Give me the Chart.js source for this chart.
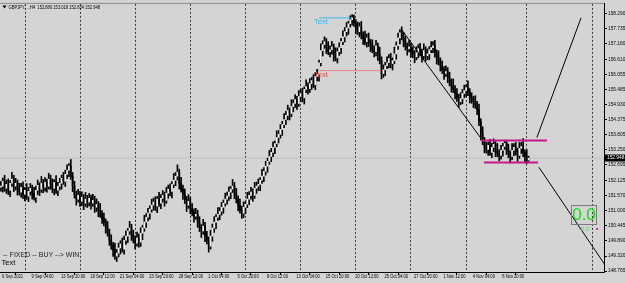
<!DOCTYPE html>
<html><head><meta charset="utf-8">
<script src="https://cdn.jsdelivr.net/npm/chart.js@4.4.0/dist/chart.umd.min.js"></script>
<style>html,body{margin:0;padding:0;background:#d4d4d4;overflow:hidden}#wrap{width:625px;height:283px;position:relative}</style>
</head><body><div id="wrap"><canvas id="c" width="625" height="283"></canvas></div>
<script>
// ---- DATA (GBPJPY H4, bar index 0 = 6 Sep 2021 12:00) ----
const opens=[
151.87,151.91,152.09,151.83,151.98,151.76,152.02,152.17,
151.91,152.02,151.80,151.69,151.87,151.61,151.76,151.54,
151.72,151.83,151.65,151.50,151.76,151.94,151.80,152.02,
151.87,152.05,151.91,152.17,151.98,151.83,152.05,151.76,
151.91,152.02,152.20,152.09,152.35,152.50,152.65,152.28,
151.91,151.61,151.43,151.57,151.35,151.50,151.28,151.43,
151.32,151.46,151.28,151.39,151.13,151.24,151.02,150.87,
150.73,150.58,150.39,150.17,149.91,149.73,149.55,149.32,
149.43,149.62,149.77,149.58,149.91,150.06,150.25,150.36,
150.10,149.95,149.80,149.99,149.84,150.17,150.36,150.58,
150.76,150.91,151.06,151.21,151.32,151.17,151.43,151.28,
151.46,151.57,151.39,151.65,151.80,151.72,151.98,152.13,
152.28,152.42,152.02,151.80,151.61,151.43,151.21,151.35,
151.09,150.95,150.80,150.87,150.58,150.39,150.25,150.43,
150.06,149.91,149.69,150.06,150.36,150.58,150.76,150.87,
150.98,151.13,151.28,151.43,151.54,151.69,151.80,151.91,
151.65,151.43,151.21,151.02,150.91,151.13,151.24,151.43,
151.57,151.69,151.57,151.83,151.91,151.98,152.13,152.28,
152.46,152.65,152.83,153.01,153.16,153.35,153.49,153.71,
153.83,154.01,154.19,154.38,154.53,154.71,154.60,154.86,
154.97,155.12,154.97,155.23,155.34,155.19,155.49,155.60,
155.52,155.71,155.82,155.67,155.97,156.04,156.48,156.93,
157.15,157.26,157.04,156.89,156.96,157.07,156.78,156.67,
156.89,157.04,157.26,157.44,157.63,157.77,157.92,158.07,
158.14,157.96,157.77,157.63,157.81,157.52,157.40,157.26,
157.40,157.22,157.11,156.96,156.89,157.11,156.81,156.56,
156.08,156.22,156.37,156.48,156.63,156.45,156.56,156.81,
157.11,157.40,157.59,157.44,157.26,157.11,157.00,157.07,
156.89,156.81,156.70,156.85,157.00,156.89,156.74,156.93,
156.74,156.81,156.96,157.04,157.11,156.85,156.67,156.52,
156.37,156.22,156.08,156.15,155.93,155.78,155.63,155.49,
155.34,155.19,155.04,155.15,155.34,155.45,155.56,155.38,
155.19,155.12,155.04,154.90,154.75,154.31,153.86,153.57,
153.35,153.27,153.42,153.16,153.35,153.46,153.24,153.12,
153.05,153.24,153.38,153.49,153.27,153.12,153.01,153.24,
153.35,153.20,153.05,153.31,153.38,153.16,153.01,152.88];
const highs=[
152.09,152.21,152.31,152.13,152.18,152.12,152.42,152.31,
152.20,152.14,152.02,152.02,152.07,151.86,152.01,151.86,
152.01,151.95,151.87,151.91,152.14,152.04,152.27,152.16,
152.23,152.17,152.39,152.32,152.18,152.15,152.30,152.05,
152.20,152.32,152.42,152.50,152.70,152.75,152.90,152.42,
152.09,151.73,151.79,151.72,151.70,151.60,151.68,151.57,
151.64,151.58,151.61,151.54,151.44,151.34,151.27,151.01,
150.91,150.70,150.61,150.32,150.11,149.83,149.80,149.57,
149.80,149.89,149.99,150.06,150.26,150.35,150.61,150.50,
150.28,150.07,150.21,150.14,150.37,150.46,150.83,150.90,
151.09,151.18,151.43,151.47,151.52,151.53,151.68,151.60,
151.75,151.69,151.87,151.95,152.00,152.08,152.38,152.42,
152.70,152.54,152.24,151.95,151.81,151.53,151.60,151.49,
151.27,151.07,151.09,151.02,150.78,150.49,150.68,150.57,
150.24,150.03,150.28,150.51,150.78,150.86,151.12,151.12,
151.31,151.40,151.65,151.69,151.89,151.90,152.16,152.05,
151.83,151.55,151.43,151.17,151.33,151.34,151.68,151.71,
151.87,151.81,152.05,152.06,152.18,152.23,152.53,152.60,
152.83,152.95,153.23,153.31,153.55,153.59,153.96,153.97,
154.19,154.31,154.60,154.68,154.91,154.81,155.11,155.11,
155.30,155.24,155.45,155.49,155.54,155.59,155.85,155.74,
155.89,155.94,156.04,156.12,156.24,156.58,157.18,157.29,
157.44,157.38,157.26,157.11,157.27,157.17,157.03,157.03,
157.22,157.38,157.66,157.78,157.97,158.02,158.22,158.26,
158.24,158.08,157.99,157.96,158.01,157.62,157.65,157.54,
157.58,157.34,157.33,157.11,157.31,157.21,157.06,156.70,
156.40,156.49,156.70,156.78,156.83,156.66,157.06,157.25,
157.58,157.71,157.81,157.59,157.46,157.21,157.32,157.21,
157.07,156.93,157.07,157.15,157.20,156.99,157.18,157.07,
156.99,157.08,157.26,157.26,157.31,156.95,156.92,156.66,
156.55,156.34,156.37,156.30,156.13,155.88,155.88,155.63,
155.52,155.31,155.37,155.49,155.65,155.66,155.81,155.52,
155.37,155.24,155.26,155.05,154.95,154.41,154.11,153.71,
153.53,153.54,153.64,153.50,153.66,153.56,153.49,153.26,
153.42,153.50,153.60,153.58,153.47,153.22,153.49,153.49,
153.53,153.32,153.53,153.53,153.67,153.26,153.26,153.02];
const lows=[
151.73,151.69,151.72,151.64,151.60,151.52,151.90,151.71,
151.77,151.58,151.58,151.50,151.45,151.37,151.42,151.34,
151.58,151.43,151.39,151.31,151.60,151.56,151.68,151.67,
151.73,151.69,151.80,151.79,151.67,151.59,151.64,151.56,
151.77,151.80,151.98,151.90,152.19,152.26,152.16,151.71,
151.47,151.21,151.32,151.16,151.19,151.04,151.16,151.12,
151.18,151.06,151.17,150.94,150.97,150.78,150.75,150.53,
150.44,150.17,150.06,149.72,149.57,149.31,149.20,149.12,
149.29,149.40,149.47,149.39,149.75,149.82,150.13,149.90,
149.81,149.58,149.69,149.65,149.68,149.93,150.24,150.38,
150.62,150.69,150.95,151.02,151.01,150.93,151.16,151.08,
151.32,151.17,151.28,151.46,151.56,151.48,151.86,151.93,
152.14,151.80,151.69,151.42,151.27,150.97,151.09,150.89,
150.81,150.58,150.69,150.39,150.23,150.01,150.13,149.86,
149.77,149.47,149.58,149.87,150.20,150.34,150.64,150.67,
150.84,150.91,151.17,151.24,151.38,151.45,151.68,151.45,
151.29,150.99,150.91,150.72,150.75,150.89,151.12,151.23,
151.43,151.35,151.46,151.64,151.75,151.74,152.01,152.08,
152.32,152.43,152.72,152.82,153.00,153.11,153.37,153.51,
153.69,153.79,154.08,154.19,154.37,154.36,154.48,154.66,
154.83,154.75,154.86,155.04,155.03,154.95,155.37,155.32,
155.38,155.49,155.56,155.48,155.81,155.80,156.36,156.73,
157.01,156.82,156.78,156.70,156.80,156.54,156.55,156.47,
156.75,156.82,157.15,157.25,157.47,157.53,157.80,157.87,
157.82,157.55,157.52,157.44,157.36,157.16,157.14,157.06,
157.08,156.89,156.85,156.70,156.73,156.57,156.44,155.88,
155.94,156.00,156.26,156.29,156.29,156.21,156.44,156.61,
156.97,157.18,157.33,157.07,156.95,156.76,156.88,156.69,
156.67,156.48,156.59,156.66,156.73,156.50,156.62,156.54,
156.60,156.59,156.85,156.85,156.69,156.43,156.40,156.17,
156.08,155.86,155.97,155.74,155.62,155.39,155.37,155.14,
155.05,154.82,154.93,154.96,155.18,155.21,155.26,154.99,
154.98,154.82,154.79,154.56,154.15,153.62,153.45,153.15,
153.13,153.05,153.05,152.97,153.19,153.00,153.00,152.85,
152.91,153.02,153.27,153.08,152.96,152.77,152.89,153.04,
153.06,152.83,152.94,153.12,153.00,152.77,152.75,152.83];
const closes=[
151.91,152.09,151.83,151.98,151.76,152.02,152.17,151.91,
152.02,151.80,151.69,151.87,151.61,151.76,151.54,151.72,
151.83,151.65,151.50,151.76,151.94,151.80,152.02,151.87,
152.05,151.91,152.17,151.98,151.83,152.05,151.76,151.91,
152.02,152.20,152.09,152.35,152.50,152.65,152.28,151.91,
151.61,151.43,151.57,151.35,151.50,151.28,151.43,151.32,
151.46,151.28,151.39,151.13,151.24,151.02,150.87,150.73,
150.58,150.39,150.17,149.91,149.73,149.55,149.32,149.43,
149.62,149.77,149.58,149.91,150.06,150.25,150.36,150.10,
149.95,149.80,149.99,149.84,150.17,150.36,150.58,150.76,
150.91,151.06,151.21,151.32,151.17,151.43,151.28,151.46,
151.57,151.39,151.65,151.80,151.72,151.98,152.13,152.28,
152.42,152.02,151.80,151.61,151.43,151.21,151.35,151.09,
150.95,150.80,150.87,150.58,150.39,150.25,150.43,150.06,
149.91,149.69,150.06,150.36,150.58,150.76,150.87,150.98,
151.13,151.28,151.43,151.54,151.69,151.80,151.91,151.65,
151.43,151.21,151.02,150.91,151.13,151.24,151.43,151.57,
151.69,151.57,151.83,151.91,151.98,152.13,152.28,152.46,
152.65,152.83,153.01,153.16,153.35,153.49,153.71,153.83,
154.01,154.19,154.38,154.53,154.71,154.60,154.86,154.97,
155.12,154.97,155.23,155.34,155.19,155.49,155.60,155.52,
155.71,155.82,155.67,155.97,156.04,156.48,156.93,157.15,
157.26,157.04,156.89,156.96,157.07,156.78,156.67,156.89,
157.04,157.26,157.44,157.63,157.77,157.92,158.07,158.14,
157.96,157.77,157.63,157.81,157.52,157.40,157.26,157.40,
157.22,157.11,156.96,156.89,157.11,156.81,156.56,156.08,
156.22,156.37,156.48,156.63,156.45,156.56,156.81,157.11,
157.40,157.59,157.44,157.26,157.11,157.00,157.07,156.89,
156.81,156.70,156.85,157.00,156.89,156.74,156.93,156.74,
156.81,156.96,157.04,157.11,156.85,156.67,156.52,156.37,
156.22,156.08,156.15,155.93,155.78,155.63,155.49,155.34,
155.19,155.04,155.15,155.34,155.45,155.56,155.38,155.19,
155.12,155.04,154.90,154.75,154.31,153.86,153.57,153.35,
153.27,153.42,153.16,153.35,153.46,153.24,153.12,153.05,
153.24,153.38,153.49,153.27,153.12,153.01,153.24,153.35,
153.20,153.05,153.31,153.38,153.16,153.01,152.87,152.95];

const timeLabels=["6 Sep 2021","9 Sep 04:00","13 Sep 20:00","16 Sep 12:00","21 Sep 04:00","23 Sep 20:00","28 Sep 12:00","1 Oct 04:00","5 Oct 20:00","8 Oct 12:00","13 Oct 04:00","15 Oct 20:00","20 Oct 12:00","25 Oct 04:00","27 Oct 20:00","1 Nov 12:00","4 Nov 04:00","8 Nov 20:00"];
const labelBars=[0,16,32,48,64,80,96,112,128,144,160,176,192,208,224,240,256,272];
const priceTicks=[158.290,157.735,157.180,156.610,156.055,155.485,154.930,154.375,153.805,153.250,152.695,152.125,151.570,151.000,150.445,149.890,149.320,148.765];
const gridBars=[28.5,58.4,88.3,118.2,148.1,178.0,207.8,237.7,268.2,304.0];
const lastPrice=152.948;
const titleText="GBPJPY....,H4  152.880 153.018 152.834 152.948";
const signalText="-- FIXED -- BUY --> WIN";
const cornerText="Text";
const boxValue="0.0";
// drawn objects (bar index, price)
const cyanLine=[{x:173.1,y:158.14},{x:190.5,y:158.14}];
const redLine=[{x:173.1,y:156.19},{x:206.8,y:156.19}];
const trendDown=[{x:217.6,y:157.74},{x:261.1,y:153.68}];
const trendUp=[{x:291.5,y:153.71},{x:315.5,y:158.14}];
const trendDown2=[{x:292.6,y:152.61},{x:329.0,y:148.95}];
const rangeTop=[{x:261.1,y:153.60},{x:297.0,y:153.60}];
const rangeBottom=[{x:262.7,y:152.79},{x:292.1,y:152.79}];
const cyanLabel={x:170.3,y:157.99};
const redLabel={x:170.3,y:156.04};

const BG='#d4d4d4';
const FONT='"Liberation Sans", Arial, sans-serif';
const X_MIN=-0.5, X_MAX=328, Y_MIN=148.733, Y_MAX=158.659;

const idx=closes.map((_,i)=>i);
const wickData=idx.map(i=>({x:i,y:[lows[i],highs[i]]}));
const bodyData=idx.map(i=>({x:i,y:[opens[i],closes[i]]}));
const bodyColors=idx.map(i=>closes[i]>=opens[i]?'#f4f4f4':'#000000');

function lineDs(data,color,w,order){return{type:'line',data,borderColor:color,borderWidth:w,pointRadius:0,fill:false,order,tension:0};}

function narrowText(ctx,txt,x,y,sx){ctx.save();ctx.translate(x,y);ctx.scale(sx,1);ctx.fillText(txt,0,0);ctx.restore();}

const extras={
  id:'extras',
  beforeDraw(chart){const c=chart.ctx;c.save();c.fillStyle=BG;c.fillRect(0,0,chart.width,chart.height);c.restore();},
  afterDraw(chart){
    const ctx=chart.ctx,xs=chart.scales.x,ys=chart.scales.y,a=chart.chartArea;
    ctx.save();
    ctx.fillStyle='#8c8c8c';ctx.fillRect(0,a.top-1,a.right,1);
    // time labels along the x axis
    ctx.fillStyle='#000';ctx.font='5px '+FONT;ctx.textBaseline='middle';ctx.textAlign='left';
    labelBars.forEach((b,k)=>narrowText(ctx,timeLabels[k],xs.getPixelForValue(b)+1.2,a.bottom+4.6,0.82));
    // title
    ctx.beginPath();ctx.moveTo(2.5,5.5);ctx.lineTo(6.5,5.5);ctx.lineTo(4.5,8.5);ctx.closePath();ctx.fill();
    ctx.font='5px '+FONT;
    narrowText(ctx,titleText,8.5,7.5,0.82);
    ctx.fillStyle='#222';ctx.font='7px '+FONT;
    ctx.fillText(signalText,3,255.5);
    ctx.fillStyle='#000';ctx.font='7.5px '+FONT;
    ctx.fillText(cornerText,1.5,262.5);
    ctx.font='7.5px '+FONT;
    ctx.fillStyle='#35b4e6';
    ctx.fillText('Text',xs.getPixelForValue(cyanLabel.x),ys.getPixelForValue(cyanLabel.y));
    ctx.fillStyle='#e0504a';
    ctx.fillText('Text',xs.getPixelForValue(redLabel.x),ys.getPixelForValue(redLabel.y));
    // last price tag
    const py=ys.getPixelForValue(lastPrice);
    ctx.fillStyle='#000';ctx.fillRect(a.right+1,Math.round(py)-3.5,20,7);
    ctx.fillStyle='#fff';ctx.font='4.8px '+FONT;
    ctx.fillText(lastPrice.toFixed(3),a.right+3,py);
    // value box
    ctx.strokeStyle='#7a7a7a';ctx.lineWidth=1;ctx.strokeRect(571.5,205.5,25,19);
    ctx.fillStyle='#16dc16';ctx.font='17px '+FONT;ctx.textAlign='center';
    ctx.fillText(boxValue,584,215.5);
    ctx.fillStyle='#5fd35f';ctx.font='6px '+FONT;
    ctx.fillText(boxValue,585,229);
    ctx.fillStyle='#d82cd8';ctx.fillRect(596,228,2,2);
    ctx.restore();
  }
};

new Chart(document.getElementById('c'),{
  type:'bar',
  data:{datasets:[
    {type:'bar',data:wickData,backgroundColor:'#000',barThickness:1,grouped:false,order:5},
    {type:'bar',data:bodyData,backgroundColor:bodyColors,barThickness:1,minBarLength:1,grouped:false,order:4},
    lineDs([{x:X_MIN,y:lastPrice},{x:X_MAX,y:lastPrice}],'#c2c2c2',1,6),
    lineDs(cyanLine,'#41b6e6',1,2),
    lineDs(redLine,'#f08080',1,2),
    lineDs(trendDown,'#000',1,1),
    lineDs(trendUp,'#000',1,1),
    lineDs(trendDown2,'#000',1,1),
    lineDs(rangeTop,'#c8168c',2,1),
    lineDs(rangeBottom,'#c8168c',2,1)
  ]},
  options:{
    responsive:false,animation:false,devicePixelRatio:1,
    layout:{padding:{top:3,left:0,right:0,bottom:0}},
    plugins:{legend:{display:false},tooltip:{enabled:false}},
    scales:{
      x:{type:'linear',position:'bottom',min:X_MIN,max:X_MAX,offset:false,
        afterBuildTicks:s=>{s.ticks=labelBars.map(v=>({value:v}));},
        afterFit:s=>{s.height=11;},
        ticks:{display:false},
        grid:{display:true,drawOnChartArea:false,drawTicks:true,tickLength:3,color:'#000',tickColor:'#000'},
        border:{display:true,color:'#000',width:1}},
      xg:{type:'linear',position:'bottom',min:X_MIN,max:X_MAX,offset:false,
        afterBuildTicks:s=>{s.ticks=gridBars.map(v=>({value:v}));},
        afterFit:s=>{s.height=0;},
        ticks:{display:false},
        grid:{display:true,drawOnChartArea:true,drawTicks:false,color:'#3a3a3a',lineWidth:1},
        border:{display:false,dash:[2,2]}},
      y:{type:'linear',position:'right',min:Y_MIN,max:Y_MAX,
        afterBuildTicks:s=>{s.ticks=priceTicks.map(v=>({value:v}));},
        afterFit:s=>{s.width=21;},
        ticks:{autoSkip:false,padding:1,color:'#000',font:{size:4.8,family:FONT},callback:v=>v.toFixed(3)},
        grid:{display:true,drawOnChartArea:false,drawTicks:true,tickLength:3,color:'#000'},
        border:{display:true,color:'#000',width:1}}
    }
  },
  plugins:[extras]
});
</script></body></html>
